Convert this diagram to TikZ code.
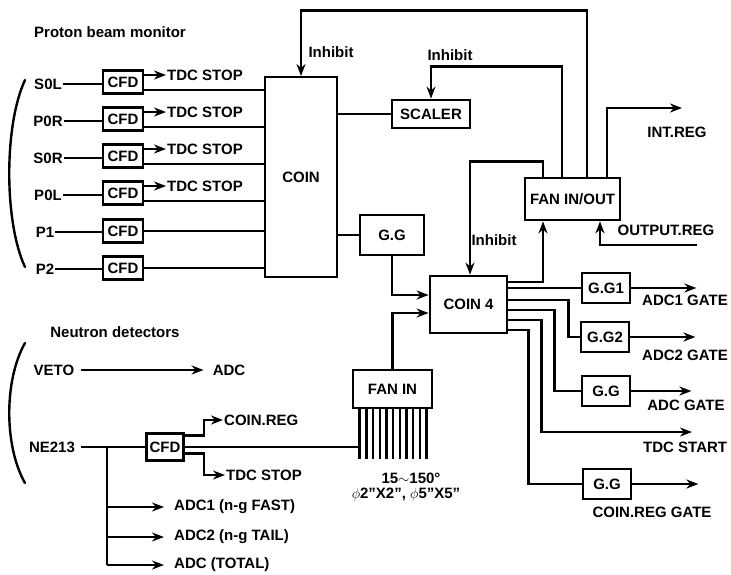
\documentclass[tikz,border=0pt]{standalone}
\usepackage{amsmath}
\usepackage{fontspec}
\setmainfont{Liberation Sans}
\usepackage{tikz}
\usetikzlibrary{arrows.meta,positioning,calc}

\begin{document}
\begin{tikzpicture}[
  x=1pt, y=-1pt,
  >={Stealth[length=12pt,width=9pt]},
  font=\fontsize{15}{17}\selectfont\bfseries,
  box/.style={draw, line width=2.8pt, inner sep=1pt},
  cfd/.style={box, minimum width=40pt, minimum height=23pt},
  gate/.style={box, minimum width=48pt, minimum height=30pt},
  lbl/.style={inner sep=1pt},
  wire/.style={line width=2.4pt},
  arr/.style={->, line width=2.4pt}
]
\useasboundingbox (0,0) rectangle (731,574);

% Proton beam monitor
\node[lbl] (title_p) at (110,32) {Proton beam monitor};
\draw[wire, line cap=round] (25,80) .. controls (4,125) and (4,222) .. (25,267);

\node[box, line width=2pt, minimum width=72pt, minimum height=200pt] (coin) at (301,177) {COIN};

\node[lbl] (s0l) at (48,84) {S0L};
\node[cfd] (cfd_s0l) at (123,82) {CFD};
\node[lbl, anchor=west] (tdc_s0l) at (166,75) {TDC STOP};
\node[lbl] (p0r) at (48,121) {P0R};
\node[cfd] (cfd_p0r) at (123,119) {CFD};
\node[lbl, anchor=west] (tdc_p0r) at (166,112) {TDC STOP};
\node[lbl] (s0r) at (48,158) {S0R};
\node[cfd] (cfd_s0r) at (123,156) {CFD};
\node[lbl, anchor=west] (tdc_s0r) at (166,149) {TDC STOP};
\node[lbl] (p0l) at (48,195) {P0L};
\node[cfd] (cfd_p0l) at (123,193) {CFD};
\node[lbl, anchor=west] (tdc_p0l) at (166,186) {TDC STOP};
\node[lbl] (p1) at (45,232) {P1};
\node[cfd] (cfd_p1) at (123,231) {CFD};
\node[lbl] (p2) at (45,269) {P2};
\node[cfd] (cfd_p2) at (123,268) {CFD};

\draw[wire] (s0l.east) -- (s0l.east -| cfd_s0l.west);
\draw[wire] (p0r.east) -- (p0r.east -| cfd_p0r.west);
\draw[wire] (s0r.east) -- (s0r.east -| cfd_s0r.west);
\draw[wire] (p0l.east) -- (p0l.east -| cfd_p0l.west);
\draw[wire] (p1.east) -- (p1.east -| cfd_p1.west);
\draw[wire] (p2.east) -- (p2.east -| cfd_p2.west);

\draw[arr] (cfd_s0l.east |- tdc_s0l) -- (tdc_s0l.west);
\draw[arr] (cfd_p0r.east |- tdc_p0r) -- (tdc_p0r.west);
\draw[arr] (cfd_s0r.east |- tdc_s0r) -- (tdc_s0r.west);
\draw[arr] (cfd_p0l.east |- tdc_p0l) -- (tdc_p0l.west);

\draw[wire] ($(cfd_s0l.east)+(0,8)$) -- ($(cfd_s0l.east -| coin.west)+(0,8)$);
\draw[wire] ($(cfd_p0r.east)+(0,8)$) -- ($(cfd_p0r.east -| coin.west)+(0,8)$);
\draw[wire] ($(cfd_s0r.east)+(0,8)$) -- ($(cfd_s0r.east -| coin.west)+(0,8)$);
\draw[wire] ($(cfd_p0l.east)+(0,8)$) -- ($(cfd_p0l.east -| coin.west)+(0,8)$);
\draw[wire] (cfd_p1.east) -- (cfd_p1.east -| coin.west);
\draw[wire] (cfd_p2.east) -- (cfd_p2.east -| coin.west);

% Scaler and gate generator
\node[box, minimum width=78pt, minimum height=28pt] (scaler) at (431,114) {SCALER};
\node[box, minimum width=64pt, minimum height=40pt] (gg) at (392,235) {G.G};
\draw[wire] (scaler.west -| coin.east) -- (scaler.west);
\draw[wire] (gg.west -| coin.east) -- (gg.west);

% Coincidence and fan in/out
\node[box, minimum width=77pt, minimum height=57pt] (coin4) at (468.5,304.5) {COIN 4};
\node[box, minimum width=95pt, minimum height=42pt] (fanio) at (572.5,199) {FAN IN/OUT};
\node[box, minimum width=79pt, minimum height=38pt] (fanin) at (392.5,389) {FAN IN};

\draw[arr] (gg.south) |- ([yshift=9.5pt]coin4.west);
\draw[arr] (fanin.north) |- ([yshift=-8.5pt]coin4.west);
\draw[arr] ([yshift=22.5pt]coin4.east) -| ([xshift=-29.5pt]fanio.south);

\draw[arr] ([xshift=14.5pt]fanio.north) -- ++(0,-166) -| (coin.north);
\node[lbl] (inh_coin) at (331,52) {Inhibit};
\draw[arr] ([xshift=-10.5pt]fanio.north) -- ++(0,-110) -| (scaler.north);
\node[lbl] (inh_scaler) at (450,55) {Inhibit};
\draw[arr] ([xshift=-29.5pt]fanio.north) -- ++(0,-15) -| ([xshift=1.5pt]coin4.north);
\node[lbl] (inh_coin4) at (494,240) {Inhibit};

\coordinate (int_end) at (682,108);
\draw[arr] ([xshift=34.5pt]fanio.north) |- (int_end);
\node[lbl] (int_reg) at (677,132) {INT.REG};
\coordinate (out_start) at (697,245);
\draw[arr] (out_start) -| ([xshift=27.5pt]fanio.south);
\node[lbl] (out_reg) at (666,230) {OUTPUT.REG};

% Gates
\node[gate] (gg1) at (606,288) {G.G1};
\node[gate] (gg2) at (605,337) {G.G2};
\node[gate] (gg_adc) at (606,391) {G.G};
\node[gate] (gg_reg) at (607,484) {G.G};
\coordinate (tdc_start_end) at (692,432);

\draw[wire] (gg1.west -| coin4.east) -- (gg1.west);
\draw[wire] ([yshift=4.5pt]coin4.east) -- ++(60,0) |- (gg2.west);
\draw[wire] ([yshift=-5.5pt]coin4.east) -- ++(46,0) |- (gg_adc.west);
\draw[arr] ([yshift=-15.5pt]coin4.east) -- ++(33,0) |- (tdc_start_end);
\draw[wire] ([yshift=-25.5pt]coin4.east) -- ++(20,0) |- (gg_reg.west);

\draw[arr] (gg1.east) -- ++(65,0);
\draw[arr] (gg2.east) -- ++(65,0);
\draw[arr] (gg_adc.east) -- ++(60,0);
\draw[arr] (gg_reg.east) -- ++(66,0);

\node[lbl, anchor=west] (adc1_gate) at (641,300) {ADC1 GATE};
\node[lbl, anchor=west] (adc2_gate) at (641,355) {ADC2 GATE};
\node[lbl] (adc_gate) at (686,405) {ADC GATE};
\node[lbl, anchor=west] (tdc_start) at (642,447) {TDC START};
\node[lbl] (reg_gate) at (652,512) {COIN.REG GATE};

% Neutron detectors
\node[lbl] (title_n) at (115,332) {Neutron detectors};
\draw[wire, line cap=round] (25,343) .. controls (4,380) and (4,446) .. (25,483);

\node[lbl] (veto) at (54,370) {VETO};
\node[lbl] (adc_veto) at (229,370) {ADC};
\draw[arr, shorten <=6pt, shorten >=8pt] (veto) -- (adc_veto);

\node[lbl] (ne213) at (52,447) {NE213};
\node[cfd, minimum width=37pt, minimum height=27pt] (cfd_ne) at (165,447) {CFD};
\draw[wire, shorten <=5pt] (ne213) -- (cfd_ne);

\node[lbl, anchor=west] (coin_reg) at (223,420) {COIN.REG};
\node[lbl, anchor=west] (tdc_ne) at (225,475) {TDC STOP};
\draw[arr] ([yshift=11.5pt]cfd_ne.east) -- ++(19,0) |- (coin_reg.west);
\draw[arr] ([yshift=-6.5pt]cfd_ne.east) -- ++(19,0) |- (tdc_ne.west);

\foreach \i in {0,...,10}
  \draw[wire] ([xshift=8pt+\i*6.7pt]fanin.south west) -- ++(0,50);
\draw[wire] (cfd_ne.east) -| ([xshift=8pt]fanin.south west);

\node[lbl] (angles) at (411,478) {15$\sim$150°};
\node[lbl] (sizes) at (406,495) {$\phi$2"X2", $\phi$5"X5"};

\node[lbl, anchor=west] (adc1) at (173,507) {ADC1 (n-g FAST)};
\node[lbl, anchor=west] (adc2) at (173,537) {ADC2 (n-g TAIL)};
\node[lbl, anchor=west] (adc_tot) at (173,565) {ADC (TOTAL)};
\coordinate (ne_br) at (107,447);
\draw[wire] (ne_br) -- (ne_br |- adc_tot);
\draw[arr, shorten >=9pt] (ne_br |- adc1) -- (adc1.west);
\draw[arr, shorten >=9pt] (ne_br |- adc2) -- (adc2.west);
\draw[arr, shorten >=9pt] (ne_br |- adc_tot) -- (adc_tot.west);

\end{tikzpicture}
\end{document}
